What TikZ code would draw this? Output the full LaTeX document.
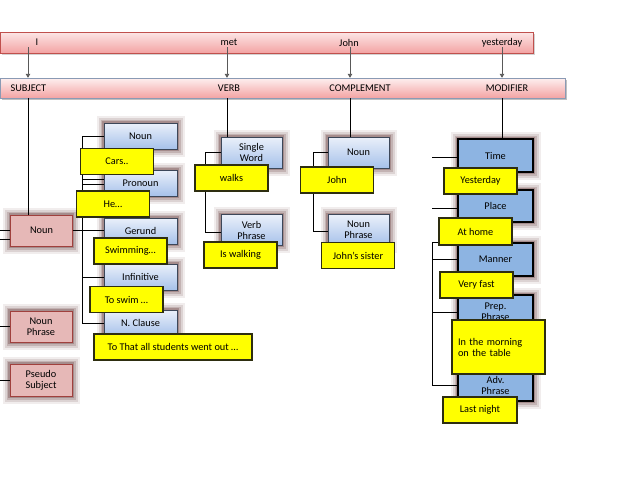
\documentclass[tikz,border=0pt]{standalone}
\usepackage{fontspec}
\setmainfont{Carlito}
\usepackage{tikz}
\usetikzlibrary{arrows.meta,positioning}
\tikzset{>/.tip={Triangle[length=4pt,width=4.5pt]}}
\definecolor{barred}{HTML}{C0504D}
\definecolor{bartop}{HTML}{FCE6E6}
\definecolor{barbot}{HTML}{F3A3A3}
\definecolor{rolegray}{HTML}{8A9AB4}
\definecolor{subjfill}{HTML}{E6B8B7}
\definecolor{subjline}{HTML}{A0403D}
\definecolor{formtop}{HTML}{EAF0FA}
\definecolor{formbot}{HTML}{A6C1EA}
\definecolor{formline}{HTML}{3C4759}
\definecolor{modfill}{HTML}{8DB4E2}
\definecolor{glowc}{HTML}{4A1818}
\definecolor{notefill}{HTML}{FFFF00}
\definecolor{noteline}{HTML}{2E2E10}
\colorlet{pointer}{black!65}

\begin{document}
\begin{tikzpicture}[x=1pt,y=-1pt,font=\fontsize{10.3}{11}\selectfont,
  glow/.style={
    preaction={draw=glowc,line width=15pt,opacity=.08},
    preaction={draw=glowc,line width=11pt,opacity=.12},
    preaction={draw=glowc,line width=7pt,opacity=.17},
    preaction={draw=glowc,line width=3.5pt,opacity=.25}},
  sentence/.style={draw=barred,top color=bartop,bottom color=barbot,inner sep=0pt,
    minimum width=533pt,minimum height=21pt,
    preaction={fill=black!35,opacity=.5,transform canvas={shift={(1.5pt,-1.5pt)}}}},
  rolebar/.style={draw=rolegray,top color=bartop!60,bottom color=barbot,inner sep=0pt,
    minimum width=565pt,minimum height=20pt,
    preaction={fill=black!45,opacity=.55,transform canvas={shift={(2pt,-2pt)}}}},
  subjbox/.style={draw=subjline,fill=subjfill,glow,align=center,inner sep=0pt,
    minimum width=62pt,minimum height=31pt},
  formbox/.style={draw=formline,top color=formtop,bottom color=formbot,glow,align=center,
    inner sep=0pt,minimum width=73pt,minimum height=26pt},
  modbox/.style={draw=black,line width=1.2pt,fill=modfill,glow,align=center,inner sep=0pt,
    minimum width=75pt,minimum height=33pt},
  note/.style={draw=noteline,line width=1.2pt,fill=notefill,inner sep=0pt,
    minimum width=73pt,minimum height=26pt},
  wire/.style={draw=black,line width=.8pt},
  pointer/.style={draw=pointer,line width=.9pt,->}]
  \useasboundingbox (0,0) rectangle (638,479);

  \node(sentence)[sentence] at (266.5,42.5){};
  \node(roles)[rolebar] at (282.5,88){};

  \node(wI) at (37,42.5){I};
  \node(wMet) at (229,42.5){met};
  \node(wJohn) at (349,42.5){John};
  \node(wYest) at (502,42.5){yesterday};

  \node(rSubj)[anchor=west] at (7,88){SUBJECT};
  \node(rVerb) at (229,88){VERB};
  \node(rComp) at (360,88){COMPLEMENT};
  \node(rMod) at (507,88){MODIFIER};

  \coordinate(aI) at (28,47);
  \coordinate(aMet) at (227,47);
  \coordinate(aJohn) at (350,47);
  \coordinate(aYest) at (502,47);
  \coordinate(lEdge) at (0,0);
  \coordinate(nBus) at (82,0);
  \coordinate(vBus) at (205,0);
  \coordinate(cBus) at (313,0);
  \coordinate(mBus) at (432,0);

  \draw[pointer] (aI) -- (aI |- roles.north);
  \draw[pointer] (aMet) -- (aMet |- roles.north);
  \draw[pointer] (aJohn) -- (aJohn |- roles.north);
  \draw[pointer] (aYest) -- (aYest |- roles.north);

  \node(sNoun)[subjbox] at (41.5,230.5){Noun};
  \node(sPhrase)[subjbox] at (41,326.5){Noun\\Phrase};
  \node(sPseudo)[subjbox,minimum height=32pt] at (41,380){Pseudo\\Subject};

  \node(fNoun)[formbox] at (140.5,136){Noun};
  \node(fPronoun)[formbox] at (140.5,183){Pronoun};
  \node(fGerund)[formbox] at (140.5,231){Gerund};
  \node(fInf)[formbox] at (140.5,277){Infinitive};
  \node(fClause)[formbox] at (140.5,323){N. Clause};

  \node(vSingle)[formbox,minimum width=61pt,minimum height=31pt] at (251.5,152.5){Single\\Word};
  \node(vPhrase)[formbox,minimum width=61pt,minimum height=31pt] at (251.5,230){Verb\\Phrase};
  \node(cNoun)[formbox,minimum width=61pt,minimum height=31pt] at (358.5,152.5){Noun};
  \node(cPhrase)[formbox,minimum width=61pt,minimum height=31pt] at (358.5,230){Noun\\Phrase};

  \node(mTime)[modbox] at (495.5,155.5){Time};
  \node(mPlace)[modbox,minimum height=32pt] at (495.5,206){Place};
  \node(mManner)[modbox] at (495.5,259.5){Manner};
  \node(mPrep)[modbox,minimum height=34pt] at (495.5,312){Prep.\\Phrase};
  \node(mAdv)[modbox,minimum height=32pt] at (495.5,385){Adv.\\Phrase};

  \draw[wire] (aI |- roles.south) -- (aI |- sNoun.north);
  \draw[wire] (sNoun.west) -- (sNoun.west -| lEdge);
  \draw[wire] ([yshift=-8.5pt]sNoun.west) -- ([yshift=-8.5pt]sNoun.west -| lEdge);
  \draw[wire] (sPhrase.west) -- (sPhrase.west -| lEdge);
  \draw[wire] (sPseudo.west) -- (sPseudo.west -| lEdge);
  \draw[wire] (sNoun.east) -- (sNoun.east -| fGerund.west);
  \draw[wire] (fNoun.west) -- (fNoun.west -| nBus) |- (fClause.west);
  \draw[wire] ([yshift=4pt]fPronoun.west) -- ([yshift=4pt]fPronoun.west -| nBus);
  \draw[wire] ([yshift=-1pt]fPronoun.west) -- ([yshift=-1pt]fPronoun.west -| nBus);
  \draw[wire] (fInf.west) -- (fInf.west -| nBus);

  \draw[wire] (aMet |- roles.south) -- (aMet |- vSingle.north);
  \draw[wire] (vSingle.west) -- (vSingle.west -| vBus) |- ([yshift=-2pt]vPhrase.west);
  \draw[wire] (aJohn |- roles.south) -- (aJohn |- cNoun.north);
  \draw[wire] (cNoun.west) -- (cNoun.west -| cBus) |- ([yshift=-1pt]cPhrase.west);

  \draw[wire] (aYest |- roles.south) -- (aYest |- mTime.north);
  \draw[wire] ([yshift=-1.5pt]mTime.west) -- ([yshift=-1.5pt]mTime.west -| mBus);
  \draw[wire] ([yshift=-2pt]mPlace.west) -- ([yshift=-2pt]mPlace.west -| mBus);
  \draw[wire] (mManner.north west) -- (mManner.north west -| mBus) |- (mAdv.west);
  \draw[wire] (mManner.west -| mBus) -- (mManner.west);
  \draw[wire] (mPrep.west -| mBus) -- (mPrep.west);

  \node(eCars)[note] at (117,161.5){Cars..};
  \node(eHe)[note] at (113,204){He…};
  \node(eSwim)[note] at (130.5,251){Swimming…};
  \node(eToSwim)[note] at (126.5,299.5){To swim …};
  \node(eThat)[note,minimum width=158pt] at (173,347){To That all students went out …};
  \node(eWalks)[note] at (231.5,178){walks};
  \node(eIsWalk)[note] at (240.5,255){Is walking};
  \node(eJohn)[note] at (337,180){John};
  \node(eSister)[note] at (358,255.5){John’s sister};
  \node(eYest)[note] at (480.5,181){Yesterday};
  \node(eHome)[note,minimum height=27pt] at (475.5,231.5){At home};
  \node(eFast)[note] at (476.5,285){Very fast};
  \node(eMorning)[note,text width=81pt,inner xsep=6pt,align=left,minimum height=54pt]
    at (498.5,347){In the morning\\on the table};
  \node(eLast)[note,minimum width=74pt] at (480,410){Last night};
\end{tikzpicture}
\end{document}
